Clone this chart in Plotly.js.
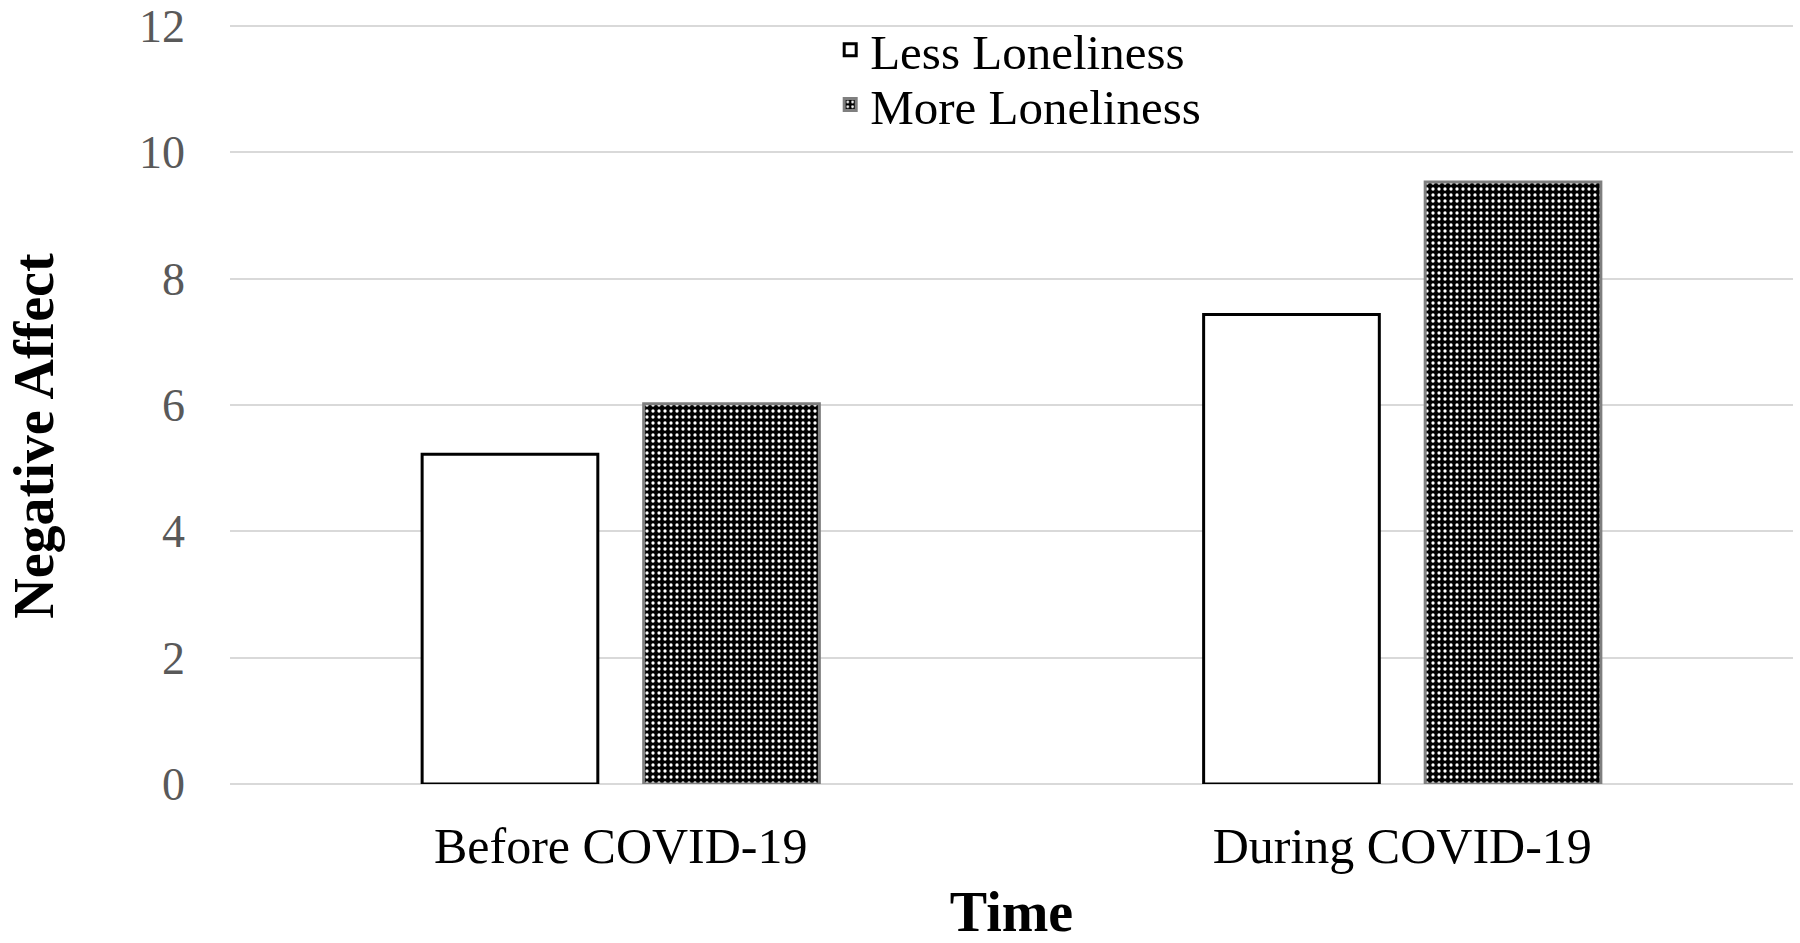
<!DOCTYPE html>
<html>
<head>
<meta charset="utf-8">
<script src="https://cdn.plot.ly/plotly-3.0.1.min.js"></script>
<style>html,body{margin:0;padding:0;background:#fff;}#chart{width:1800px;height:943px;}</style>
</head>
<body>
<div id="chart"></div>
<script>
const categories = ["Before COVID-19", "During COVID-19"];
const lessLoneliness = [5.22, 7.43];
const moreLoneliness = [6.02, 9.53];
const seriesNames = ["Less Loneliness", "More Loneliness"];
const yTicks = [0, 2, 4, 6, 8, 10, 12];
const xTitle = "Time";
const yTitle = "Negative Affect";

const serif = "'Liberation Serif', 'Times New Roman', serif";

const traces = [
  {
    type: "bar", name: seriesNames[0], x: categories, y: lessLoneliness,
    marker: {color: "#ffffff", line: {color: "#000000", width: 3}},
    legend: "legend", hoverinfo: "x+y"
  },
  {
    type: "bar", name: seriesNames[1], x: categories, y: moreLoneliness,
    marker: {color: "#000000", line: {color: "#7f7f7f", width: 3},
      pattern: {shape: ".", bgcolor: "#000000", fgcolor: "#ffffff", size: 6, solidity: 0.24, fillmode: "replace"}},
    legend: "legend2", hoverinfo: "x+y"
  }
];

const layout = {
  width: 1800, height: 943,
  margin: {l: 230, r: 7, t: 24, b: 159, autoexpand: false},
  paper_bgcolor: "#ffffff", plot_bgcolor: "#ffffff",
  barmode: "group", bargap: 0.433, bargroupgap: 0.207,
  font: {family: serif, color: "#000000"},
  xaxis: {
    showgrid: false, showline: false, ticks: "", zeroline: false, automargin: false,
    tickfont: {family: serif, size: 50, color: "#000000"},
    ticklabelstandoff: 28,
    title: {text: "<b>" + xTitle + "</b>", font: {family: serif, size: 56, color: "#000000"}, standoff: 34}
  },
  yaxis: {
    range: [0, 12.03], tickvals: yTicks, ticktext: yTicks.map(String), automargin: false,
    showgrid: true, gridcolor: "#d9d9d9", gridwidth: 2,
    zeroline: true, zerolinecolor: "#d9d9d9", zerolinewidth: 2,
    showline: false, ticks: "",
    tickfont: {family: serif, size: 46, color: "#595959"},
    ticklabelstandoff: 44
  },
  annotations: [{
    text: "<b>" + yTitle + "</b>", xref: "paper", yref: "paper",
    x: -0.1255, y: 0.458, xanchor: "center", yanchor: "middle", textangle: -90,
    showarrow: false, font: {family: serif, size: 56, color: "#000000"}
  }],
  showlegend: true,
  legend: {x: 0.384, y: 0.966, xanchor: "left", yanchor: "middle", bgcolor: "rgba(0,0,0,0)",
    font: {family: serif, size: 49, color: "#000000"}, itemwidth: 30},
  legend2: {x: 0.384, y: 0.894, xanchor: "left", yanchor: "middle", bgcolor: "rgba(0,0,0,0)",
    font: {family: serif, size: 49, color: "#000000"}, itemwidth: 30}
};

Plotly.newPlot("chart", traces, layout, {displayModeBar: false, staticPlot: true});
</script>
</body>
</html>
